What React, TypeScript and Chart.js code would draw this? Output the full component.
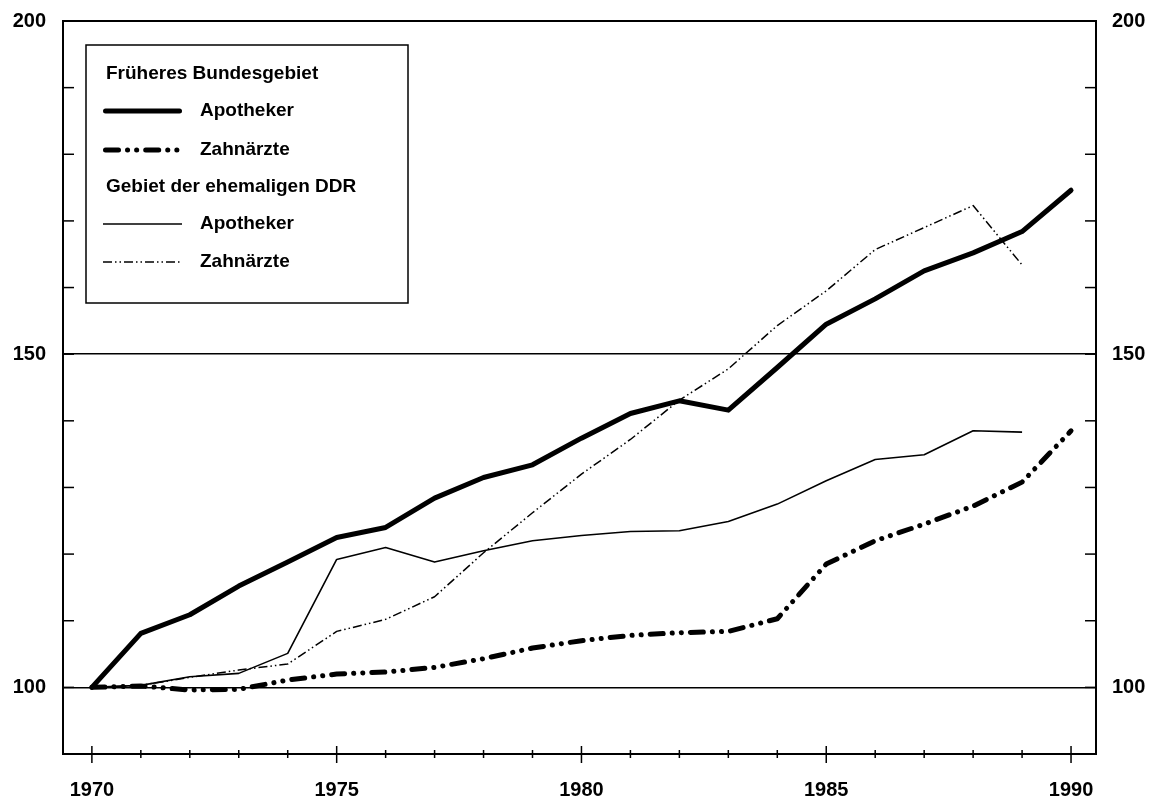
import React, { useEffect, useRef } from "react";
import { Chart, registerables } from "chart.js";

Chart.register(...registerables);

const years = [1970, 1971, 1972, 1973, 1974, 1975, 1976, 1977, 1978, 1979, 1980, 1981, 1982, 1983, 1984, 1985, 1986, 1987, 1988, 1989, 1990];

const frgApotheker = [100, 108.1, 110.9, 115.2, 118.8, 122.5, 124.0, 128.4, 131.5, 133.4, 137.4, 141.1, 143.0, 141.6, 148.0, 154.5, 158.3, 162.5, 165.2, 168.4, 174.6];
const frgZahnaerzte = [100, 100.2, 99.6, 99.7, 101.1, 102.0, 102.3, 103.0, 104.3, 105.9, 107.0, 107.8, 108.2, 108.4, 110.3, 118.5, 122.0, 124.5, 127.2, 130.8, 138.5];
const ddrApotheker = [100, 100.3, 101.6, 102.1, 105.1, 119.2, 121.0, 118.8, 120.5, 122.0, 122.8, 123.4, 123.5, 124.9, 127.5, 131.0, 134.2, 134.9, 138.5, 138.3];
const ddrZahnaerzte = [100, 100.3, 101.5, 102.6, 103.5, 108.4, 110.2, 113.6, 120.2, 126.2, 132.0, 137.2, 143.1, 147.8, 154.3, 159.5, 165.7, 169.0, 172.3, 163.4];

const yLabelValues = [100, 150, 200];
const gridValues = [100, 150];
const xLabelStep = 5;
const legendTitles = ["Früheres Bundesgebiet", "Gebiet der ehemaligen DDR"];
const seriesNames = ["Apotheker", "Zahnärzte"];

const FONT = '"Liberation Sans", Arial, Helvetica, sans-serif';

const toPoints = (vals: number[]) => vals.map((v, i) => ({ x: years[i], y: v }));

const overlayPlugin = {
  id: "overlay",
  afterDatasetsDraw(chart: any) {
    const { ctx, chartArea: a, scales } = chart;
    const line = (x1: number, y1: number, x2: number, y2: number) => {
      ctx.beginPath();
      ctx.moveTo(x1, y1);
      ctx.lineTo(x2, y2);
      ctx.stroke();
    };
    ctx.save();
    ctx.strokeStyle = "#000";
    ctx.setLineDash([]);
    ctx.lineCap = "butt";
    // frame
    ctx.lineWidth = 2;
    ctx.strokeRect(a.left, a.top, a.right - a.left, a.bottom - a.top);
    // inward y ticks
    ctx.lineWidth = 1.5;
    scales.y.ticks.forEach((t: any) => {
      const py = scales.y.getPixelForValue(t.value);
      line(a.left, py, a.left + 11, py);
      line(a.right - 11, py, a.right, py);
    });
    // x ticks crossing axis
    years.forEach((yr) => {
      const px = scales.x.getPixelForValue(yr);
      const major = yr % xLabelStep === 0;
      line(px, a.bottom - (major ? 8 : 4), px, a.bottom + (major ? 9 : 4));
    });

    // legend box
    const bx = 86, by = 45, bw = 322, bh = 258;
    ctx.fillStyle = "#fff";
    ctx.fillRect(bx, by, bw, bh);
    ctx.lineWidth = 1.5;
    ctx.strokeRect(bx, by, bw, bh);

    ctx.fillStyle = "#000";
    ctx.font = `bold 19px ${FONT}`;
    ctx.textAlign = "left";
    ctx.textBaseline = "middle";
    const rows = [
      { type: "title", text: legendTitles[0], y: 74 },
      { type: "series", ds: 0, text: seriesNames[0], y: 111 },
      { type: "series", ds: 1, text: seriesNames[1], y: 150 },
      { type: "title", text: legendTitles[1], y: 187 },
      { type: "series", ds: 2, text: seriesNames[0], y: 224 },
      { type: "series", ds: 3, text: seriesNames[1], y: 262 },
    ];
    rows.forEach((r: any) => {
      if (r.type === "title") {
        ctx.fillText(r.text, 106, r.y);
      } else {
        const ds = chart.data.datasets[r.ds];
        ctx.save();
        ctx.strokeStyle = ds.borderColor;
        ctx.lineWidth = ds.borderWidth;
        ctx.lineCap = ds.borderCapStyle || "butt";
        ctx.setLineDash(ds.borderDash || []);
        const x1 = 103 + (ds.borderCapStyle === "round" ? ds.borderWidth / 2 : 0);
        const x2 = 182 - (ds.borderCapStyle === "round" ? ds.borderWidth / 2 : 0);
        line(x1, r.y, x2, r.y);
        ctx.restore();
        ctx.fillText(r.text, 200, r.y);
      }
    });
    ctx.restore();
  },
};

export default function App() {
  const ref = useRef<HTMLCanvasElement | null>(null);
  useEffect(() => {
    if (!ref.current) return;
    const yTickLabel = (v: any) => (yLabelValues.includes(Number(v)) ? String(v) : "");
    const chart = new Chart(ref.current, {
      type: "line",
      data: {
        datasets: [
          {
            label: "Früheres Bundesgebiet Apotheker",
            data: toPoints(frgApotheker),
            borderColor: "#000",
            borderWidth: 5,
            borderCapStyle: "round",
            borderJoinStyle: "round",
            pointRadius: 0,
            tension: 0,
            fill: false,
          },
          {
            label: "Früheres Bundesgebiet Zahnärzte",
            data: toPoints(frgZahnaerzte),
            borderColor: "#000",
            borderWidth: 5,
            borderDash: [13, 9, 0.1, 9, 0.1, 9],
            borderCapStyle: "round",
            borderJoinStyle: "round",
            pointRadius: 0,
            tension: 0,
            fill: false,
          },
          {
            label: "Gebiet der ehemaligen DDR Apotheker",
            data: toPoints(ddrApotheker),
            borderColor: "#000",
            borderWidth: 1.6,
            borderCapStyle: "butt",
            borderJoinStyle: "round",
            pointRadius: 0,
            tension: 0,
            fill: false,
          },
          {
            label: "Gebiet der ehemaligen DDR Zahnärzte",
            data: toPoints(ddrZahnaerzte),
            borderColor: "#000",
            borderWidth: 1.5,
            borderDash: [9, 3, 1.5, 3, 1.5, 3],
            borderCapStyle: "butt",
            borderJoinStyle: "round",
            pointRadius: 0,
            tension: 0,
            fill: false,
          },
        ],
      },
      options: {
        animation: false,
        responsive: false,
        devicePixelRatio: 1,
        layout: { padding: { top: 21, left: 0, right: 0, bottom: 0 } },
        plugins: { legend: { display: false }, tooltip: { enabled: false } },
        scales: {
          x: {
            type: "linear",
            min: 1969.41,
            max: 1990.51,
            grid: { display: false, drawTicks: false },
            border: { display: false },
            afterBuildTicks: (s: any) => {
              s.ticks = years.map((v) => ({ value: v }));
            },
            ticks: {
              autoSkip: false,
              maxRotation: 0,
              padding: 24,
              color: "#000",
              font: { family: FONT, size: 20, weight: "bold" },
              callback: (v: any) => (Number(v) % xLabelStep === 0 ? String(v) : ""),
            },
            afterFit: (s: any) => {
              s.height = 47;
              s.paddingLeft = 0;
              s.paddingRight = 0;
            },
          },
          y: {
            type: "linear",
            position: "left",
            min: 90,
            max: 200,
            grid: {
              drawTicks: false,
              lineWidth: 1.5,
              color: (c: any) => (c.tick && gridValues.includes(c.tick.value) ? "#000" : "rgba(0,0,0,0)"),
            },
            border: { display: false },
            ticks: {
              stepSize: 10,
              autoSkip: false,
              padding: 17,
              color: "#000",
              font: { family: FONT, size: 20, weight: "bold" },
              callback: yTickLabel,
            },
            afterFit: (s: any) => {
              s.width = 63;
              s.paddingTop = 0;
              s.paddingBottom = 0;
            },
          },
          y2: {
            type: "linear",
            position: "right",
            min: 90,
            max: 200,
            grid: { display: false, drawTicks: false },
            border: { display: false },
            ticks: {
              stepSize: 10,
              autoSkip: false,
              padding: 16,
              color: "#000",
              font: { family: FONT, size: 20, weight: "bold" },
              callback: yTickLabel,
            },
            afterFit: (s: any) => {
              s.width = 58;
              s.paddingTop = 0;
              s.paddingBottom = 0;
            },
          },
        },
      },
      plugins: [overlayPlugin],
    } as any);
    return () => chart.destroy();
  }, []);

  return (
    <div style={{ position: "absolute", left: 0, top: 0, width: 1154, height: 801, background: "#fff" }}>
      <canvas ref={ref} width={1154} height={801} style={{ display: "block" }} />
    </div>
  );
}
